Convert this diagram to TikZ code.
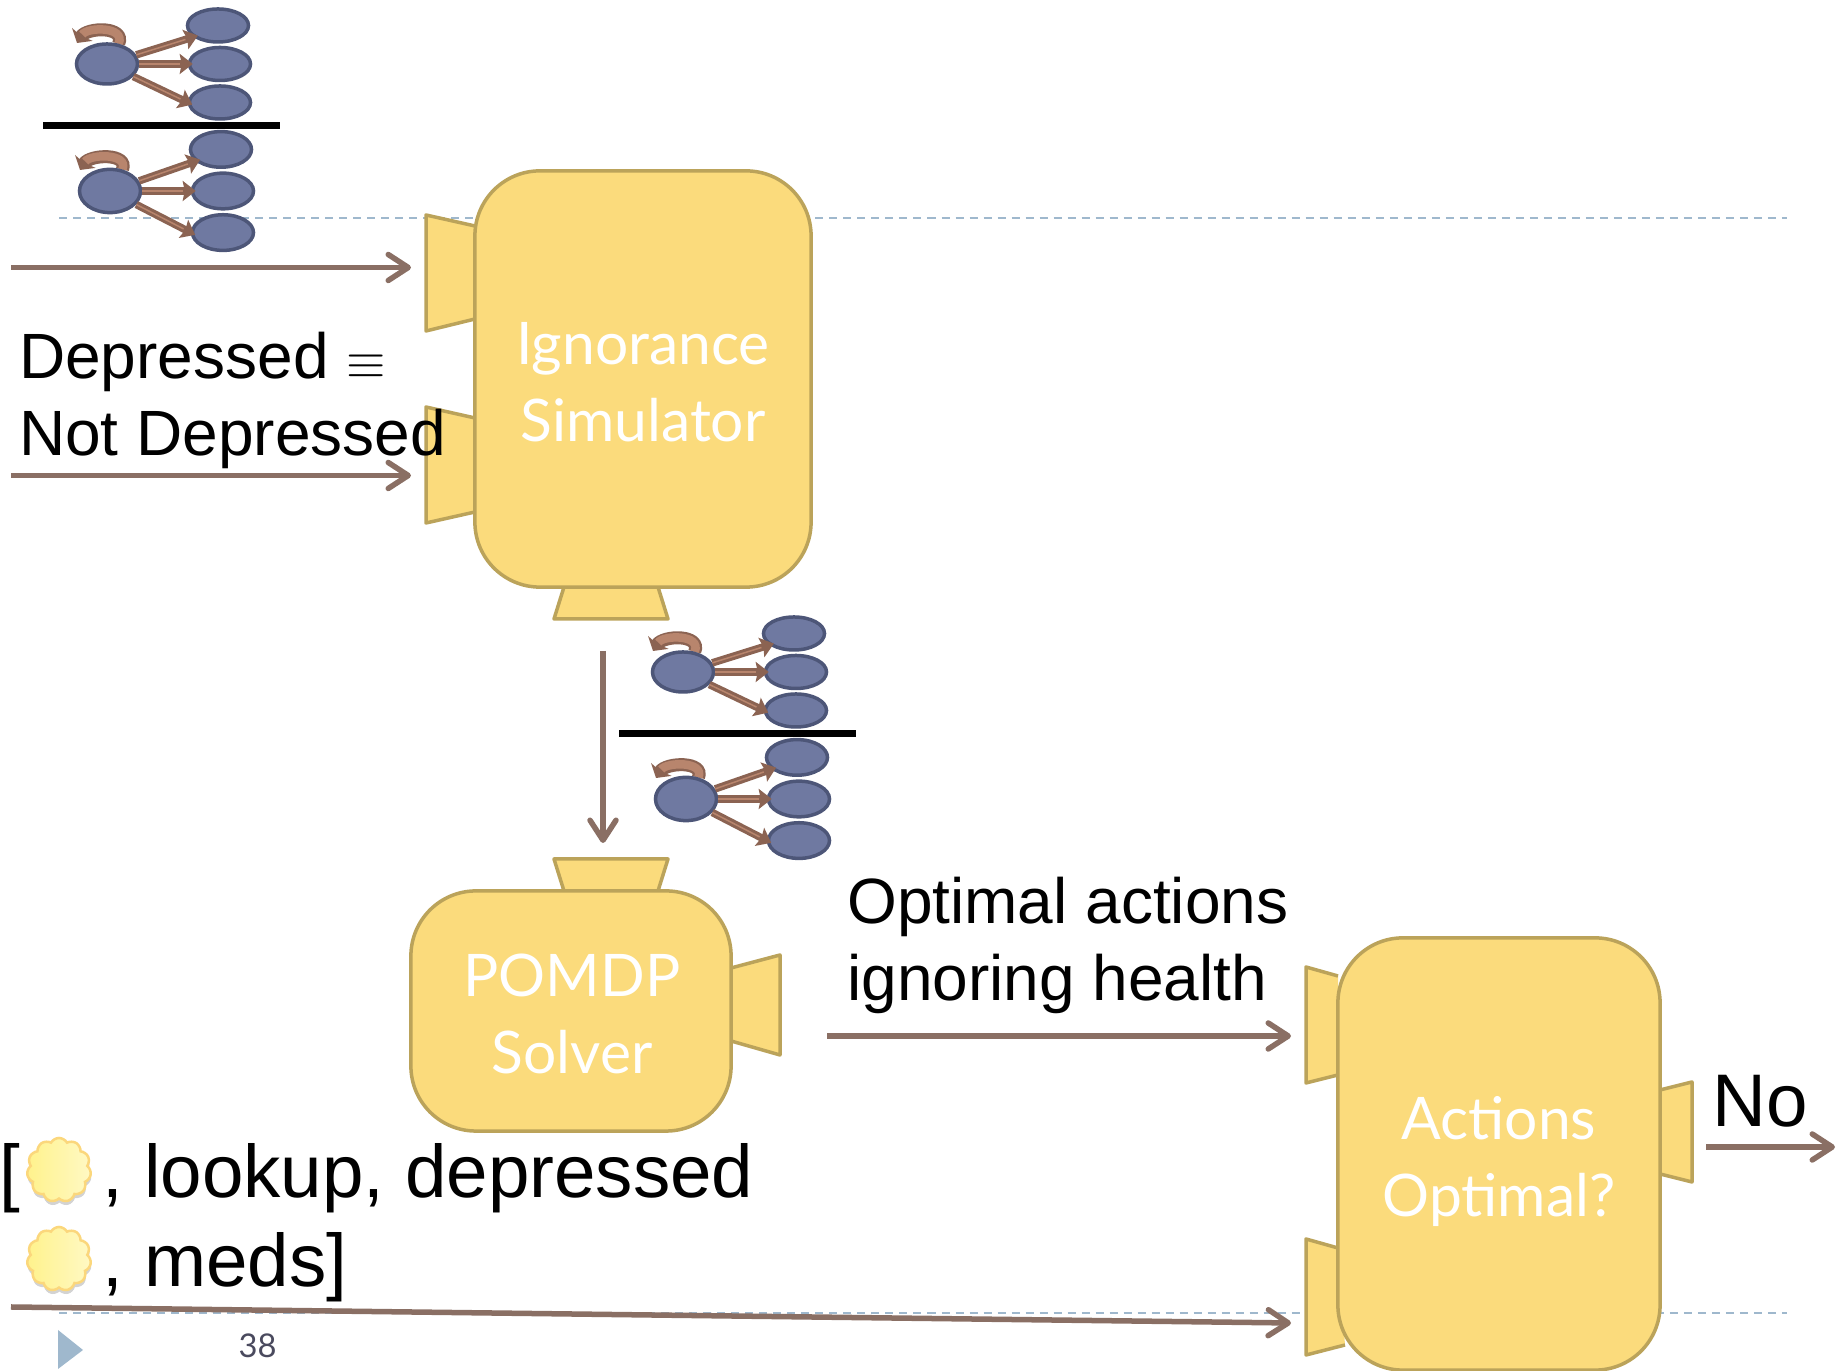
\documentclass[tikz,border=0pt]{standalone}
\usepackage{fontspec}
\setmainfont{Liberation Sans}
\newfontfamily\boxfont{Lato}
\usetikzlibrary{arrows.meta}
\usetikzlibrary{backgrounds}
\usetikzlibrary{shadows}
\usetikzlibrary{shapes.geometric}
\usetikzlibrary{shapes.symbols}

\definecolor{blockfill}{HTML}{FBDB7C}
\definecolor{blockline}{HTML}{BBA35A}
\definecolor{flowline}{HTML}{8A6F64}
\definecolor{netfill}{HTML}{6F79A1}
\definecolor{netline}{HTML}{4D5678}
\definecolor{netdark}{HTML}{8B6352}
\definecolor{netlight}{HTML}{B8856D}
\definecolor{slideblue}{HTML}{9FB8CD}
\definecolor{pagenum}{HTML}{4A4A5E}
\definecolor{puffline}{HTML}{FBD77C}
\definecolor{puffleft}{HTML}{FFF28C}
\definecolor{puffright}{HTML}{FFF9C4}

% root, three children, their arrows and the loop
\newcommand{\smallnet}[4]{
	\begin{scope}[shift={(#2, #3)}]
		\node[netnode, minimum height = {#4*0.4cm}](#1root) at (0, 0) {};
		\node[netnode, minimum height = {#4*0.33cm}](#1up) at (111, {-38.5*#4}) {};
		\node[netnode, minimum height = {#4*0.33cm}](#1mid) at (113, 0) {};
		\node[netnode, minimum height = {#4*0.33cm}](#1low) at (113, {38.5*#4}) {};
		\coordinate (#1tip) at (-30, -21);
		\draw[netedge] (#1root) -- (#1up.205);
		\draw[netedge] (#1root) -- (#1mid.west);
		\draw[netedge] (#1root) -- (#1low.west);
		\begin{pgfonlayer}{background}
			\draw[netloop] (#1root.60) .. controls (19, -38) and (-20, -37) .. (#1tip);
		\end{pgfonlayer}
	\end{scope}
}

\begin{document}
\begin{tikzpicture}[x = 0.01cm, y = -0.01cm]
		\tikzstyle{block} = [draw = blockline, fill = blockfill, line width = 0.035cm, shape = rectangle, rounded corners = 0.65cm]
		\tikzstyle{blocktext} = [text = white, align = center, inner sep = 0pt, font = \boxfont\fontsize{16.7}{21.9}\selectfont]
		\tikzstyle{port} = [draw = blockline, fill = blockfill, line width = 0.035cm, line join = round]
		\tikzstyle{flow} = [draw = flowline, line width = 0.055cm, -{Straight Barb[length = 0.2cm, width = 0.26cm, round]}]
		\tikzstyle{netnode} = [draw = netline, fill = netfill, line width = 0.035cm, shape = ellipse, minimum width = 0.61cm, inner sep = 0pt]
		\tikzstyle{netedge} = [draw = netdark, line width = 0.075cm, shorten >= -0.05cm, -{Stealth[length = 0.13cm, width = 0.2cm, inset = 0.02cm]}, postaction = {draw = netlight, line width = 0.015cm, -, shorten >= 0.08cm}]
		\tikzstyle{netloop} = [draw = netdark, line width = 0.13cm, -{Stealth[length = 0.1cm, width = 0.24cm, inset = 0.02cm]}, postaction = {draw = netlight, line width = 0.085cm, -, shorten >= 0.1cm}]
		\tikzstyle{bar} = [fill = black, minimum width = 2.37cm, minimum height = 0.07cm, inner sep = 0pt]
		\tikzstyle{guide} = [draw = slideblue, line width = 0.02cm, dash pattern = on 0.08cm off 0.06cm]
		\tikzstyle{puff} = [shape = cloud, cloud puffs = 11, cloud puff arc = 120, aspect = 1, draw = puffline, line width = 0.025cm, left color = puffleft, right color = puffright, minimum width = 0.64cm, minimum height = 0.64cm, inner sep = 0pt, drop shadow = {shadow xshift = 0.005cm, shadow yshift = -0.04cm, opacity = 0.35}]
		\tikzstyle{label} = [anchor = base west, inner sep = 0pt, align = left, font = \fontsize{18.2}{21.9}\selectfont]
		\tikzstyle{biglabel} = [anchor = base west, inner sep = 0pt, font = \fontsize{21.2}{24}\selectfont]
		\useasboundingbox (0, 0) rectangle (1841, 1371);

	% Guides
		\coordinate (guideTopA) at (59, 218.5);
		\coordinate (guideTopB) at (1787, 218.5);
		\coordinate (guideLowA) at (59, 1313);
		\coordinate (guideLowB) at (1787, 1313);
		\draw[guide] (guideTopA) -- (guideTopB);
		\draw[guide] (guideLowA) -- (guideLowB);

	% Ports
		\draw[port] (475, 226) -- (426, 215) -- (426, 331) -- (475, 319);
		\draw[port] (475, 418) -- (426, 407) -- (426, 523) -- (475, 512);
		\draw[port] (564, 587) -- (554, 619) -- (668, 619) -- (658, 587);
		\draw[port] (564, 891) -- (554, 859) -- (668, 859) -- (658, 891);
		\draw[port] (731, 968) -- (780, 955) -- (780, 1055) -- (731, 1041);
		\draw[port] (1338, 976) -- (1306, 967) -- (1306, 1083) -- (1338, 1075);
		\draw[port] (1338, 1248) -- (1306, 1239) -- (1306, 1355) -- (1345, 1345);
		\draw[port] (1660, 1090) -- (1692, 1082) -- (1692, 1182) -- (1660, 1174);

	% Blocks
		\node[block, minimum width = 3.36cm, minimum height = 4.16cm](ignorance) at (643, 379) {};
		\node[block, minimum width = 3.2cm, minimum height = 2.4cm](solver) at (571, 1011) {};
		\node[block, minimum width = 3.22cm, minimum height = 4.32cm](optimal) at (1499, 1154) {};
		\node[blocktext](ignoranceText) at (643, 382.5) {Ignorance\\Simulator};
		\node[blocktext](solverText) at (572, 1014) {POMDP\\Solver};
		\node[blocktext](optimalText) at (1499, 1162) {Actions\\Optimal?};

	% Small nets
		\foreach \name/\xx/\yy/\ff in {a/107/64/1, b/110/191/1.08, c/683/672/1, d/686/799/1.08}{
			\smallnet{\name}{\xx}{\yy}{\ff}
		}
		\node[bar](barTop) at (161.5, 126) {};
		\node[bar](barLow) at (737.5, 734) {};

	% Texts
		\node[label](depressed) at (18.5, 456) {Depressed {\fontsize{14}{14}\selectfont$\equiv$}\\Not Depressed};
		\node[label](ignoring) at (846.5, 1001) {Optimal actions\\ignoring health};
		\node[biglabel](answer) at (1712, 1127) {No};
		\node[biglabel](openBracket) at (-1, 1198) {[};
		\node[puff](stateOne) at (59, 1170) {};
		\node[biglabel](firstObs) at (102, 1198) {, lookup, depressed};
		\node[puff](stateTwo) at (59, 1259) {};
		\node[biglabel](secondObs) at (102, 1287) {, meds]};

	% Arrows
		\coordinate (beliefIn) at (11, 267.5);
		\coordinate (beliefEnd) at (411, 267.5);
		\coordinate (depIn) at (11, 475.5);
		\coordinate (depEnd) at (411, 475.5);
		\coordinate (ignOut) at (603, 651);
		\coordinate (solverIn) at (603, 843);
		\coordinate (actStart) at (827, 1036);
		\coordinate (actEnd) at (1291, 1036);
		\coordinate (obsStart) at (11, 1307);
		\coordinate (obsEnd) at (1291, 1323);
		\coordinate (noStart) at (1706, 1147);
		\coordinate (noEnd) at (1835, 1147);
		\draw[flow] (beliefIn) -- (beliefEnd);
		\draw[flow] (depIn) -- (depEnd);
		\draw[flow] (ignOut) -- (solverIn);
		\draw[flow] (actStart) -- (actEnd);
		\draw[flow] (obsStart) -- (obsEnd);
		\draw[flow] (noStart) -- (noEnd);

	% Slide marks
		\fill[slideblue] (58, 1330) -- (83, 1350) -- (58, 1369) -- cycle;
		\node[anchor = base west, inner sep = 0pt, text = pagenum, font = \boxfont\fontsize{9.3}{12}\selectfont](pageNumber) at (238, 1358) {38};

	\end{tikzpicture}
\end{document}
